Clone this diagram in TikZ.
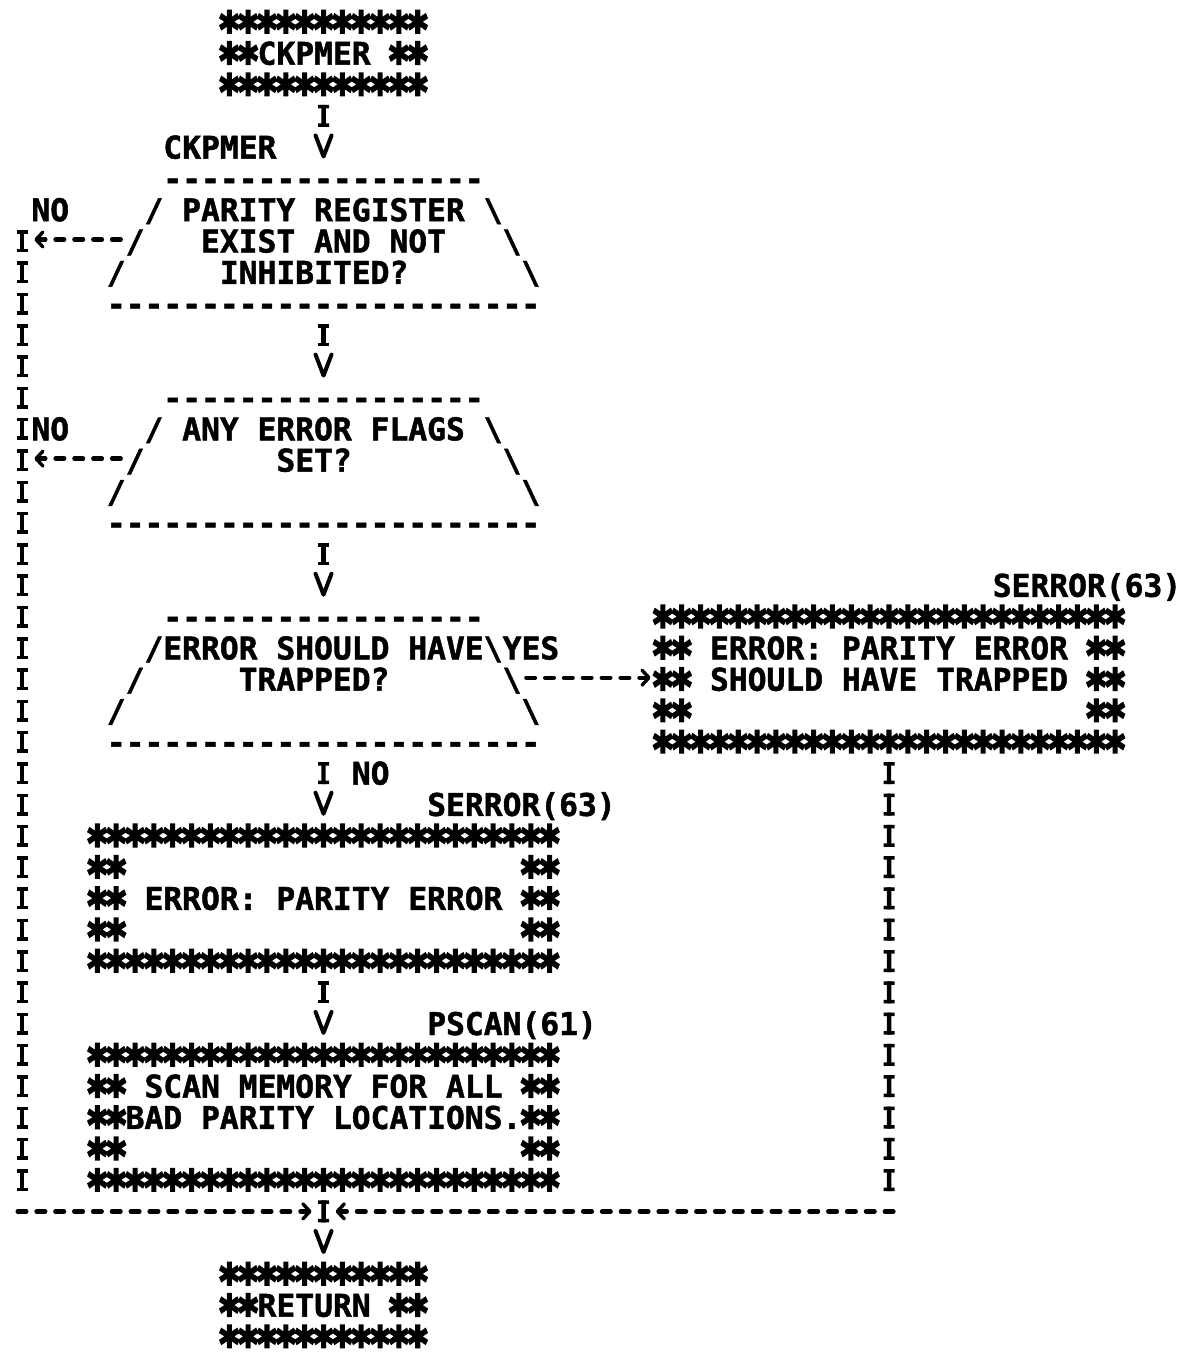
\documentclass[tikz,border=0pt]{standalone}
\usepackage{fontspec}
\usepackage{graphicx}
\usetikzlibrary{arrows.meta}
\newfontfamily\prtfont{DejaVu Sans Mono}[Ligatures=TeXOff,BoldFeatures={FakeBold=1.5}]
\newfontfamily\astfont{DejaVu Sans Mono}[BoldFeatures={FakeBold=5}]
\newcommand\prt{\prtfont\bfseries\fontsize{31.3}{31.3}\selectfont}
\newcommand\sr{\rule{0pt}{26pt}}
\newsavebox\astbox
\newcommand\astk{\sbox\astbox{\scalebox{1.2}[1.5]{\astfont *}}%
  \sbox\astbox{\raisebox{\dimexpr0.72em-\ht\astbox\relax}{\usebox\astbox}}%
  \dp\astbox=0pt
  \hbox to\fontcharwd\font`*{\hss\usebox\astbox\hss}}
\newcommand\stars[1]{\foreach\ii in {1,...,#1}{\astk}}
\newcommand\dashes[1]{\foreach\ii in {1,...,#1}{-}}
\newcommand\bl[1]{\hbox to #1\fontcharwd\font`M{}}

\begin{document}
\begin{tikzpicture}[x=18.85pt,y=-31.3pt,line cap=round,
  box/.style={anchor=north west,inner sep=0pt,outer sep=0pt,xshift=-9.425pt,yshift=14.6pt,
    align=left,font=\prt},
  flow/.style={line width=4.4pt,line cap=butt,dash pattern=on 22pt off 200pt,shorten <=8.9pt,shorten >=5.4pt,
    -{Straight Barb[length=21pt,width=16pt,line width=4pt,round]},
    postaction={draw,-,line width=11pt,line cap=butt,dash pattern=on 3.5pt off 15pt on 3.5pt off 200pt}},
  trunk/.style={line width=4.4pt,line cap=butt,dash pattern=on 22pt off 9.3pt,
    postaction={draw,line width=11pt,line cap=butt,dash pattern=on 3.5pt off 15pt on 3.5pt off 9.3pt}},
  hflow/.style={line width=4.4pt,dash pattern=on 8.6pt off 10.25pt,
    -{Straight Barb[length=7pt,width=15pt,line width=3.4pt,round]}}]
\useasboundingbox (-22pt,22pt) rectangle (1159pt,-1334pt);
\node[box] (start) at (11,0) {\sr\stars{11}\\\astk\astk CKPMER~\astk\astk\\\stars{11}};
\node[box] (lckp) at (8,4) {\sr CKPMER};
\node[box] (d1) at (5,5) {\sr\bl{3}\dashes{17}\\
  \bl{2}/~PARITY~REGISTER~\textbackslash\\
  \bl{1}/\bl{3}EXIST~AND~NOT\bl{3}\textbackslash\\
  /\bl{5}INHIBITED?\bl{6}\textbackslash\\
  \dashes{23}};
\node[box] (lno1) at (1,6) {\sr NO};
\node[box] (d2) at (5,12) {\sr\bl{3}\dashes{17}\\
  \bl{2}/~ANY~ERROR~FLAGS~\textbackslash\\
  \bl{1}/\bl{7}SET?\bl{8}\textbackslash\\
  /\bl{21}\textbackslash\\
  \dashes{23}};
\node[box] (lno2) at (1,13) {\sr NO};
\node[box] (d3) at (5,19) {\sr\bl{3}\dashes{17}\\
  \bl{2}/ERROR~SHOULD~HAVE\textbackslash\\
  \bl{1}/\bl{5}TRAPPED?\bl{6}\textbackslash\\
  /\bl{21}\textbackslash\\
  \dashes{23}};
\node[box] (lyes) at (26,20) {\sr YES};
\node[box] (lserr1) at (52,18) {\sr SERROR(63)};
\node[box] (trap) at (34,19) {\sr\stars{25}\\
  \astk\astk~ERROR:~PARITY~ERROR~\astk\astk\\
  \astk\astk~SHOULD~HAVE~TRAPPED~\astk\astk\\
  \astk\astk\bl{21}\astk\astk\\
  \stars{25}};
\node[box] (lno3) at (18,24) {\sr NO};
\node[box] (lserr2) at (22,25) {\sr SERROR(63)};
\node[box] (perr) at (4,26) {\sr\stars{25}\\
  \astk\astk\bl{21}\astk\astk\\
  \astk\astk~ERROR:~PARITY~ERROR~\astk\astk\\
  \astk\astk\bl{21}\astk\astk\\
  \stars{25}};
\node[box] (lpscan) at (22,32) {\sr PSCAN(61)};
\node[box] (scan) at (4,33) {\sr\stars{25}\\
  \astk\astk~SCAN~MEMORY~FOR~ALL~\astk\astk\\
  \astk\astk BAD~PARITY~LOCATIONS.\astk\astk\\
  \astk\astk\bl{21}\astk\astk\\
  \stars{25}};
\node[box] (ret) at (11,40) {\sr\stars{11}\\\astk\astk RETURN~\astk\astk\\\stars{11}};
\coordinate (lt) at (0,7);
\coordinate (lb) at (0,38);
\coordinate (rb) at (46,38);
\coordinate (jn) at (16,38);
\draw[flow] (start) -- (d1);
\draw[flow] (d1) -- (d2);
\draw[flow] (d2) -- (d3);
\draw[flow] (d3) -- (perr);
\draw[flow] (perr) -- (scan);
\draw[flow] (scan) -- (ret);
\draw[hflow,shorten >=12.3pt] ([xshift=13.9pt]d1.west) -- (d1.west -| lt);
\draw[hflow,shorten >=12.3pt] ([xshift=13.9pt]d2.west) -- (d2.west -| lt);
\draw[hflow,shorten >=2.8pt] ([xshift=-13.9pt]d3.east) -- (trap.west);
\draw[trunk] ([yshift=11pt]lt) -- ([yshift=15pt]lb);
\draw[trunk] ([yshift=-8.9pt]trap.south) -- ([yshift=15pt]rb);
\draw[hflow,shorten >=12pt] ([xshift=-4.3pt]lb) -- (jn);
\draw[hflow,shorten >=12pt] ([xshift=4.3pt]rb) -- (jn);
\end{tikzpicture}
\end{document}
